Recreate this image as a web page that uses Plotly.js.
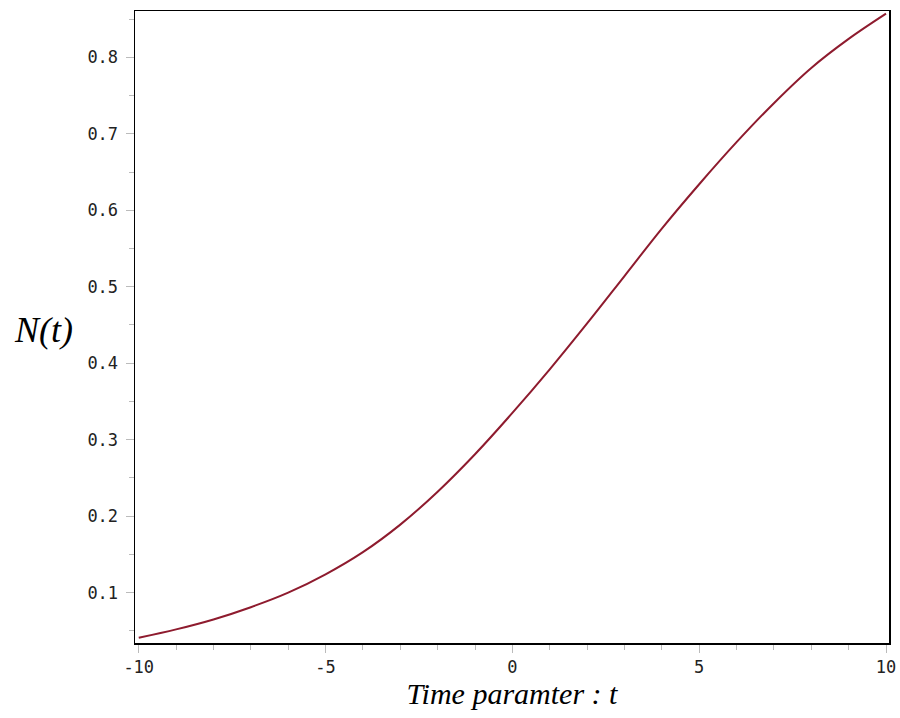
<!DOCTYPE html>
<html>
<head>
<meta charset="utf-8">
<script src="https://cdn.plot.ly/plotly-3.0.1.min.js"></script>
<style>html,body{margin:0;padding:0;background:#fff;}#chart{width:900px;height:718px;}</style>
</head>
<body>
<div id="chart"></div>
<script>
// Time parameter t
const tValues = [-10, -9, -8, -7, -6, -5, -4, -3, -2, -1, 0, 1, 2, 3, 4, 5, 6, 7, 8, 9, 10];
// N(t)
const nValues = [0.041, 0.052, 0.065, 0.081, 0.100, 0.124, 0.153, 0.189, 0.232, 0.281, 0.335,
                 0.392, 0.452, 0.514, 0.576, 0.634, 0.689, 0.740, 0.786, 0.824, 0.857];
const xTickVals = [-10, -5, 0, 5, 10];
const xTickText = ['-10', '-5', '0', '5', '10'];
const yTickVals = [0.1, 0.2, 0.3, 0.4, 0.5, 0.6, 0.7, 0.8];
const yTickText = ['0.1', '0.2', '0.3', '0.4', '0.5', '0.6', '0.7', '0.8'];
const xTitle = '<i>Time paramter : t</i>';
const yTitle = '<i>N(t)</i>';

const trace = {
  x: tValues, y: nValues, type: 'scatter', mode: 'lines',
  line: {color: '#8e1b2e', width: 2, shape: 'spline', smoothing: 1},
  hoverinfo: 'skip'
};

const tickFont = {family: 'DejaVu Sans Mono, monospace', size: 17, color: '#222'};

const layout = {
  width: 900, height: 718,
  margin: {l: 135, r: 11, t: 11, b: 75},
  paper_bgcolor: '#fff', plot_bgcolor: '#fff',
  showlegend: false,
  xaxis: {
    range: [-10.1, 10.08], showgrid: false, zeroline: false,
    showline: true, linecolor: '#000', linewidth: 1.5, mirror: true,
    ticks: 'outside', ticklen: 8, tickcolor: '#bbb', tickwidth: 1,
    tickvals: xTickVals, ticktext: xTickText, tickfont: tickFont,
    minor: {dtick: 1, ticks: 'outside', ticklen: 5, tickcolor: '#bbb', showgrid: false},
    title: {text: xTitle, font: {family: 'Liberation Serif, serif', size: 30, color: '#000'}, standoff: 6}
  },
  yaxis: {
    range: [0.0342, 0.8605], showgrid: false, zeroline: false,
    showline: true, linecolor: '#000', linewidth: 1.5, mirror: true,
    ticks: 'outside', ticklen: 8, tickcolor: '#bbb', tickwidth: 1,
    tickvals: yTickVals, ticktext: yTickText, tickfont: tickFont,
    ticklabelstandoff: 4,
    minor: {dtick: 0.05, tick0: 0, ticks: 'outside', ticklen: 5, tickcolor: '#bbb', showgrid: false}
  },
  annotations: [{
    text: yTitle, xref: 'paper', yref: 'paper', x: -0.122, y: 0.495,
    xanchor: 'center', yanchor: 'middle', showarrow: false,
    font: {family: 'Liberation Serif, serif', size: 36, color: '#000'}
  }]
};

Plotly.newPlot('chart', [trace], layout, {staticPlot: true, displayModeBar: false});
</script>
</body>
</html>
